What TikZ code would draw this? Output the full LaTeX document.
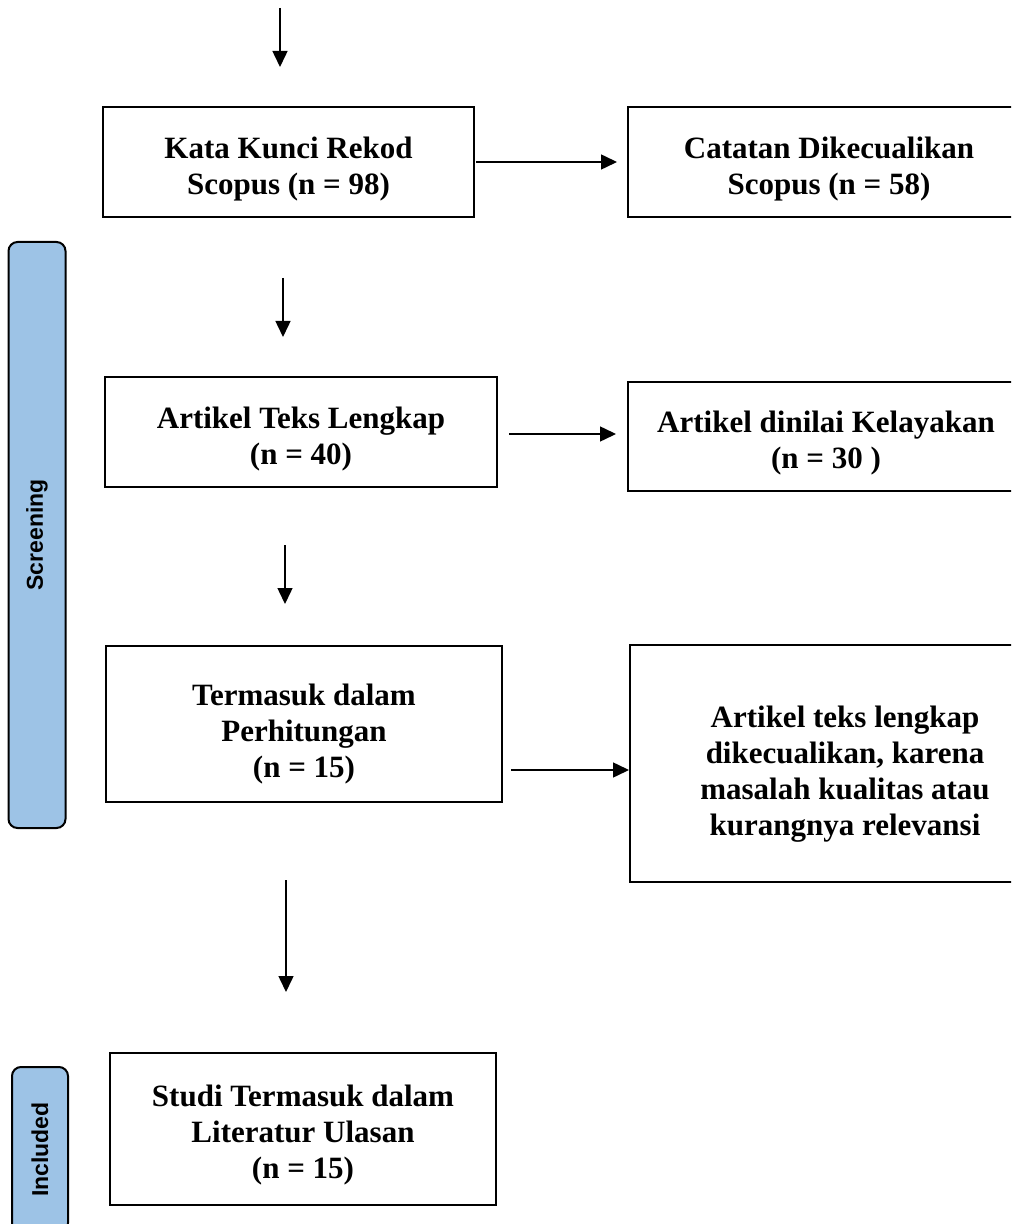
\documentclass[tikz,border=0pt]{standalone}
\usepackage{fontspec}
\setmainfont{Liberation Serif}
\newfontfamily\sidefont{Liberation Sans}
\usetikzlibrary{arrows.meta}
\definecolor{barblue}{RGB}{157,195,230}
\begin{document}
\begin{tikzpicture}[x=0.5pt,y=-0.5pt,
  box/.style={draw,line width=1pt,inner sep=0pt},
  txt/.style={align=center,inner sep=0pt,font=\fontsize{15.5}{18}\selectfont\bfseries},
  arr/.style={line width=0.75pt,-{Triangle[length=8pt,width=7.5pt]}},
  bar/.style={draw,line width=1pt,fill=barblue,rounded corners=4.5pt,rotate=90,
    inner sep=0pt,font=\sidefont\fontsize{11.5}{13}\selectfont\bfseries}]
\useasboundingbox (0,0) rectangle (1011,1224);
\clip (0,0) rectangle (1011,1224);
% side bars
\node[bar,minimum width=293pt,minimum height=28.5pt] (scr) at (37,535) {Screening};
\node[bar,minimum width=82.5pt,minimum height=28pt] (inc) at (40,1149.5) {Included};
% boxes
\node[box,minimum width=185.5pt,minimum height=55pt] (b1) at (288.5,162) {};
\node[box,minimum width=201pt,minimum height=55pt] (b2) at (829,162) {};
\node[box,minimum width=196pt,minimum height=55pt] (b3) at (301,432) {};
\node[box,minimum width=198pt,minimum height=54.5pt] (b4) at (826,436.5) {};
\node[box,minimum width=198pt,minimum height=78pt] (b5) at (304,724) {};
\node[box,minimum width=215pt,minimum height=118.5pt] (b6) at (845,763.5) {};
\node[box,minimum width=193pt,minimum height=76pt] (b7) at (303,1129) {};
% texts
\node[txt] (t1) at ([yshift=-3.5pt]b1.center) {Kata Kunci Rekod\\Scopus (n = 98)};
\node[txt] (t2) at ([yshift=-3.5pt]b2.center) {Catatan Dikecualikan\\Scopus (n = 58)};
\node[txt] (t3) at ([yshift=-3.5pt]b3.center) {Artikel Teks Lengkap\\(n = 40)};
\node[txt] (t4) at ([yshift=-3.5pt]b4.center) {Artikel dinilai Kelayakan\\(n = 30 )};
\node[txt] (t5) at ([yshift=-5pt]b5.center) {Termasuk dalam\\Perhitungan\\(n = 15)};
\node[txt] (t6) at ([yshift=-5.5pt]b6.center) {Artikel teks lengkap\\dikecualikan, karena\\masalah kualitas atau\\kurangnya relevansi};
\node[txt] (t7) at ([yshift=-3pt]b7.center) {Studi Termasuk dalam\\Literatur Ulasan\\(n = 15)};
% free vertical arrows
\coordinate (a0s) at (280,8);   \coordinate (a0e) at (280,67);
\coordinate (a1s) at (283,278); \coordinate (a1e) at (283,337);
\coordinate (a2s) at (285,545); \coordinate (a2e) at (285,604);
\coordinate (a3s) at (286,880); \coordinate (a3e) at (286,992);
\draw[arr] (a0s) -- (a0e);
\draw[arr] (a1s) -- (a1e);
\draw[arr] (a2s) -- (a2e);
\draw[arr] (a3s) -- (a3e);
% horizontal arrows
\draw[arr] ([xshift=0.5pt]b1.east) -- ([xshift=-5pt]b1.east -| b2.west);
\draw[arr] ([xshift=5.5pt,yshift=-1pt]b3.east) -- ([xshift=-5.5pt,yshift=-1pt]b3.east -| b4.west);
\draw[arr] ([xshift=4pt,yshift=-23pt]b5.east) -- ([yshift=-23pt]b5.east -| b6.west);
\end{tikzpicture}
\end{document}
